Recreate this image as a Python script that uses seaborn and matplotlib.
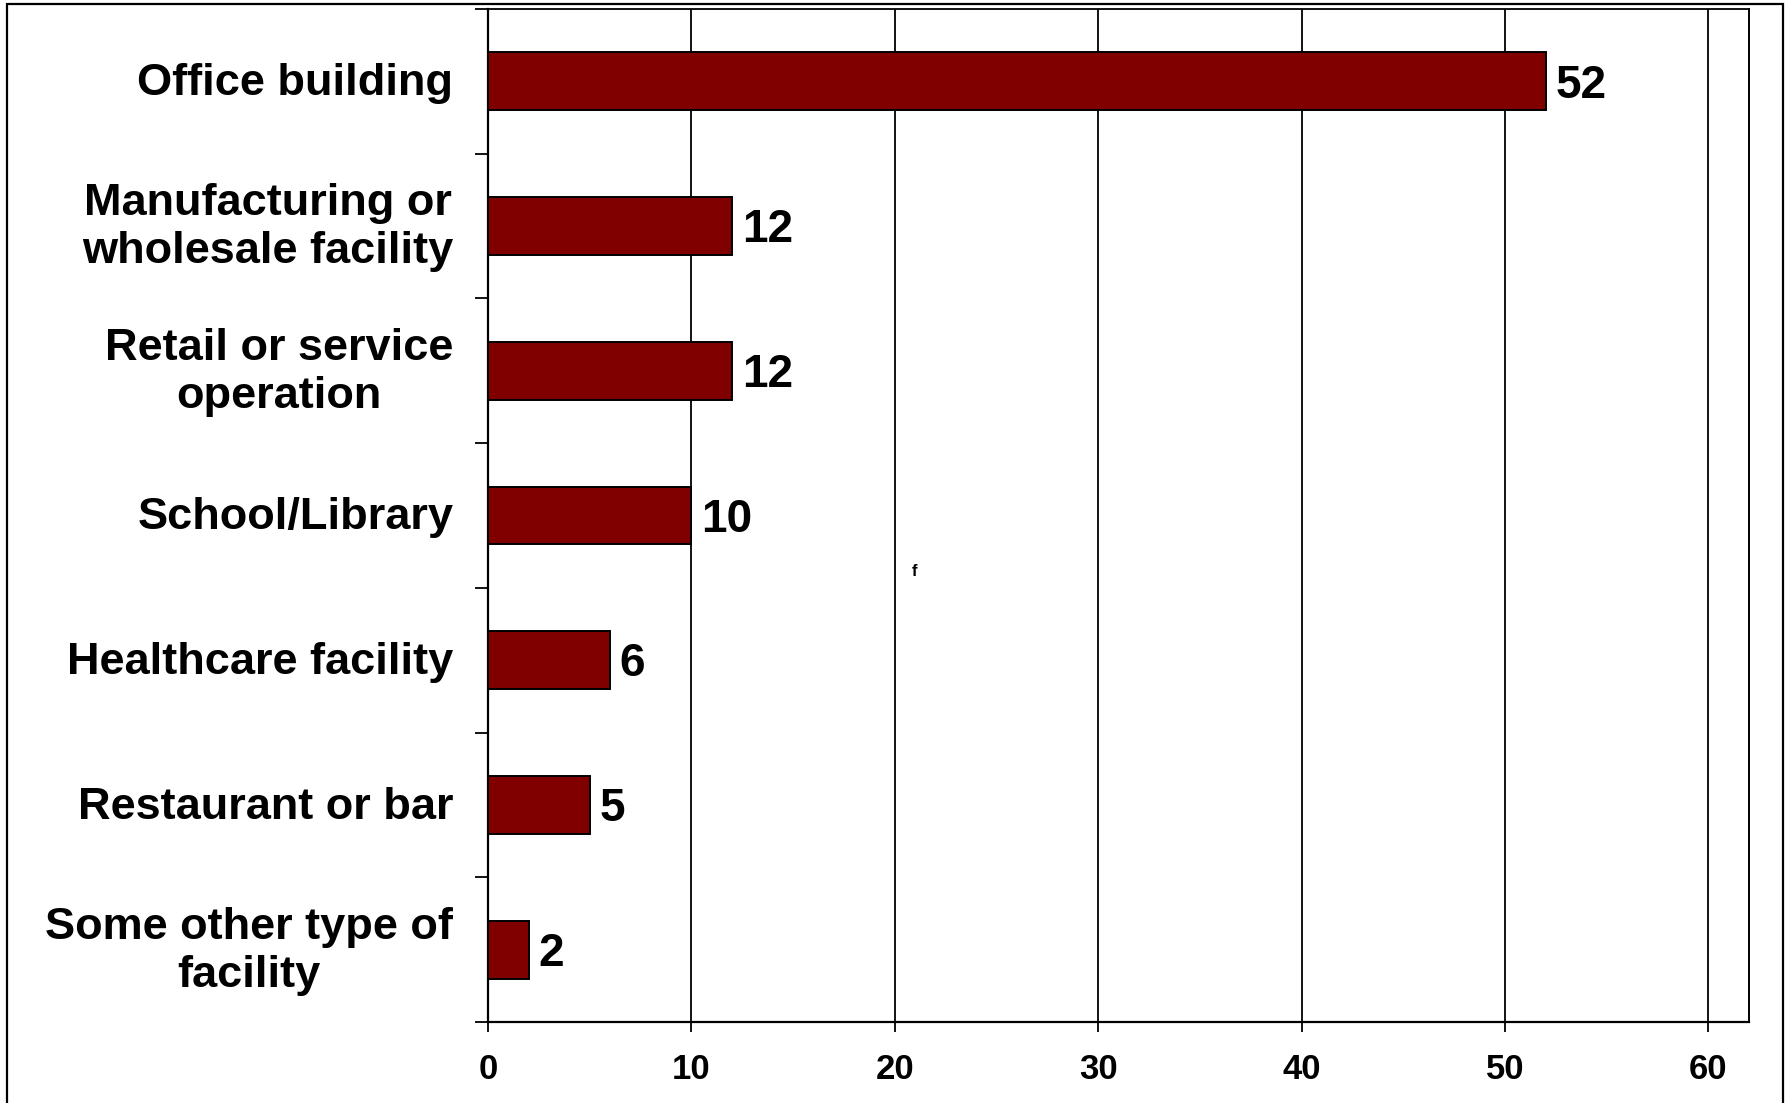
import matplotlib
matplotlib.use("Agg")
import matplotlib.pyplot as plt
import matplotlib.transforms as mtransforms
import seaborn as sns
import pandas as pd
from matplotlib.patches import Rectangle
from matplotlib.ticker import FixedLocator

categories = [
    "Office building",
    "Manufacturing or\nwholesale facility",
    "Retail or service\noperation",
    "School/Library",
    "Healthcare facility",
    "Restaurant or bar",
    "Some other type of\nfacility",
]
values = [52, 12, 12, 10, 6, 5, 2]
x_ticks = [0, 10, 20, 30, 40, 50, 60]

sns.set_theme(style="white")
plt.rcParams["font.family"] = ["Liberation Sans", "DejaVu Sans"]
plt.rcParams["font.weight"] = "bold"
plt.rcParams["text.color"] = "black"
plt.rcParams["xtick.color"] = "black"
plt.rcParams["ytick.color"] = "black"
plt.rcParams["xtick.labelcolor"] = "black"
plt.rcParams["ytick.labelcolor"] = "black"

df = pd.DataFrame({"facility": categories, "count": values})

fig = plt.figure(figsize=(17.85, 11.03), dpi=100)
ax = fig.add_axes([488 / 1785, 1 - 1022 / 1103, (1749 - 488) / 1785, (1022 - 9) / 1103])

sns.barplot(data=df, x="count", y="facility", orient="h", color="#800000",
            saturation=1, width=0.4, edgecolor="black", linewidth=1.4, ax=ax, zorder=3)

ax.set_xlim(0, 62)
ax.set_ylim(len(categories) - 0.5, -0.5)
ax.set_xlabel("")
ax.set_ylabel("")

# vertical gridlines only
ax.set_xticks(x_ticks)
ax.xaxis.grid(True, color="black", linewidth=1.3, zorder=0)
ax.yaxis.grid(False)
ax.set_axisbelow(True)

for side in ["left", "bottom", "top", "right"]:
    ax.spines[side].set_visible(True)
    ax.spines[side].set_color("black")
ax.spines["left"].set_linewidth(1.6)
ax.spines["bottom"].set_linewidth(1.6)
ax.spines["top"].set_linewidth(1.3)
ax.spines["right"].set_linewidth(1.4)

ax.tick_params(axis="x", which="major", direction="out", length=7.5, width=1.3,
               color="black", labelcolor="black", labelsize=25, pad=15, bottom=True)
for lab in ax.get_xticklabels():
    lab.set_fontweight("bold")

# category labels at bar centres, tick marks on the category boundaries
ax.tick_params(axis="y", which="major", length=0, labelsize=32.5, pad=25, left=True,
               labelcolor="black")
ax.yaxis.set_minor_locator(FixedLocator([i - 0.5 for i in range(len(categories) + 1)]))
ax.tick_params(axis="y", which="minor", direction="out", length=9.5, width=1.3,
               color="black", left=True)
for lab in ax.get_yticklabels():
    lab.set_fontweight("bold")
    lab.set_multialignment("center")
    lab.set_linespacing(1.22)
    lift = 4.5 if "\n" in lab.get_text() else 1.5
    lab.set_transform(lab.get_transform()
                      + mtransforms.ScaledTranslation(0, lift / 72, fig.dpi_scale_trans))

# value labels at the bar ends
for i, v in enumerate(values):
    ax.annotate(str(v), xy=(v, i), xytext=(7, -3), textcoords="offset points",
                ha="left", va="center", fontsize=33, fontweight="bold", color="black")

fig.text(914 / 1785, 1 - 572 / 1103, "f", fontsize=12, fontweight="bold",
         ha="center", va="center", color="black")

# outer frame
fig.add_artist(Rectangle((7 / 1785, -0.05), (1783 - 7) / 1785, 1.05 - 4 / 1103,
                         transform=fig.transFigure, fill=False, edgecolor="black",
                         linewidth=1.6, clip_on=False))

fig.savefig("out.png", dpi=100, facecolor="white")
